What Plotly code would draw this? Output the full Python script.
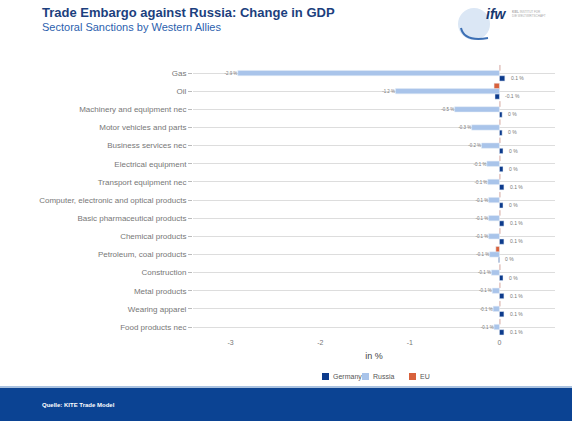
import plotly.graph_objects as go

W, H = 572, 421

sectors = [
    "Gas", "Oil", "Machinery and equipment nec", "Motor vehicles and parts",
    "Business services nec", "Electrical equipment", "Transport equipment nec",
    "Computer, electronic and optical products", "Basic pharmaceutical products",
    "Chemical products", "Petroleum, coal products", "Construction",
    "Metal products", "Wearing apparel", "Food products nec",
]
germany = [0.06, -0.05, 0.03, 0.03, 0.04, 0.04, 0.05, 0.04, 0.05, 0.05, -0.01, 0.04, 0.05, 0.05, 0.05]
russia = [-2.92, -1.16, -0.5, -0.31, -0.2, -0.14, -0.13, -0.12, -0.12, -0.12, -0.11, -0.09, -0.08, -0.07, -0.06]
eu = [0.01, -0.06, 0.01, 0.01, 0.01, 0.01, 0.01, 0.01, 0.01, 0.01, -0.04, 0.01, 0.01, 0.01, 0.01]

x_ticks = [-3, -2, -1, 0]

series_names = ["Germany", "Russia", "EU"]
series_colors = ["#0d3b8c", "#a9c4ea", "#d8613c"]
NAVY = "#0b4393"


def pct(v):
    r = round(v, 1) + 0.0
    return f"{r:g} %"


fig = go.Figure()
fig.add_trace(go.Bar(name=series_names[0], y=sectors, x=germany, orientation="h",
                     marker_color=series_colors[0]))
fig.add_trace(go.Bar(name=series_names[1], y=sectors, x=russia, orientation="h",
                     marker_color=series_colors[1], texttemplate="%{x:.1f} %",
                     textposition="outside", cliponaxis=False,
                     outsidetextfont=dict(size=5, color="#777")))
fig.add_trace(go.Bar(name=series_names[2], y=sectors, x=eu, orientation="h",
                     marker_color=series_colors[2]))

# Germany value labels sit right of the zero line
for s, v in zip(sectors, germany):
    fig.add_annotation(x=max(v, 0), y=s, xref="x", yref="y", text=pct(v),
                       showarrow=False, xanchor="left", xshift=4, yshift=-5,
                       font=dict(size=5, color="#777"))

# Compact legend: small squares with labels
legend_x = [322, 362, 409]
for px, name, col in zip(legend_x, series_names, series_colors):
    fig.add_shape(type="rect", xref="paper", yref="paper",
                  x0=px / W, x1=(px + 7) / W, y0=1 - 380 / H, y1=1 - 373 / H,
                  line_width=0, fillcolor=col)
    fig.add_annotation(x=(px + 9) / W, y=1 - 376.5 / H, xref="paper", yref="paper",
                       text=name, showarrow=False, xanchor="left", yanchor="middle",
                       font=dict(size=7, color="#555"))

# Titles
fig.add_annotation(x=40 / W, y=1 - 13 / H, xref="paper", yref="paper",
                   text="<b>Trade Embargo against Russia: Change in GDP</b>",
                   showarrow=False, xanchor="left", yanchor="middle",
                   font=dict(size=13, color="#1c3f7e", family="Liberation Sans"))
fig.add_annotation(x=40 / W, y=1 - 27 / H, xref="paper", yref="paper",
                   text="Sectoral Sanctions by Western Allies",
                   showarrow=False, xanchor="left", yanchor="middle",
                   font=dict(size=11, color="#2c5fae", family="Liberation Sans"))

# Logo
fig.add_shape(type="circle", xref="paper", yref="paper",
              x0=458 / W, x1=490 / W, y0=1 - 40 / H, y1=1 - 8 / H,
              line=dict(color="#b9cfe9", width=0), fillcolor="#dbe7f5", layer="below")
fig.add_shape(type="path", xref="paper", yref="paper",
              path=f"M {461/W},{1-28/H} Q {464/W},{1-42/H} {488/W},{1-38/H}",
              line=dict(color="#3c6fb4", width=2))
fig.add_annotation(x=484 / W, y=1 - 14 / H, xref="paper", yref="paper",
                   text="<b><i>ifw</i></b>", showarrow=False, xanchor="left",
                   yanchor="middle", font=dict(size=14, color="#17386f",
                                               family="Liberation Sans"))
fig.add_annotation(x=510 / W, y=1 - 14 / H, xref="paper", yref="paper",
                   text="<b>KIEL</b> INSTITUT FÜR<br>DIE WELTWIRTSCHAFT",
                   showarrow=False, xanchor="left", yanchor="middle", align="left",
                   font=dict(size=3, color="#aaaaaa", family="Liberation Sans"))

# Footer band
fig.add_shape(type="rect", xref="paper", yref="paper", x0=0, x1=1,
              y0=0, y1=(H - 388) / H, line_width=0, fillcolor=NAVY, layer="below")
fig.add_shape(type="line", xref="paper", yref="paper", x0=0, x1=1,
              y0=(H - 387) / H, y1=(H - 387) / H,
              line=dict(color="#8eaed6", width=1.5))
fig.add_annotation(x=40 / W, y=(H - 405) / H, xref="paper", yref="paper",
                   text="<b>Quelle: KITE Trade Model</b>", showarrow=False,
                   xanchor="left", yanchor="middle",
                   font=dict(size=6, color="white", family="Liberation Sans"))

fig.update_layout(
    width=W, height=H,
    margin=dict(l=0, r=0, t=0, b=0),
    paper_bgcolor="white", plot_bgcolor="white",
    barmode="group", bargap=0.12, bargroupgap=0,
    font=dict(family="Liberation Sans", color="#666"),
    showlegend=False,
    xaxis=dict(domain=[193 / W, 555 / W], range=[-3.42, 0.62],
               tickvals=x_ticks, ticktext=[str(t) for t in x_ticks],
               showgrid=False, zeroline=False, showline=False,
               tickfont=dict(size=7, color="#777"),
               title=dict(text="in %", font=dict(size=9, color="#444"), standoff=7),
               automargin=False),
    yaxis=dict(domain=[(H - 337) / H, (H - 64) / H],
               categoryorder="array", categoryarray=sectors[::-1],
               showgrid=True, gridcolor="#dddddd", gridwidth=1,
               ticks="outside", ticklen=4, tickcolor="#bbbbbb",
               tickfont=dict(size=8, color="#777"),
               showline=False, zeroline=False, automargin=False),
)

fig.write_html("out.html")
